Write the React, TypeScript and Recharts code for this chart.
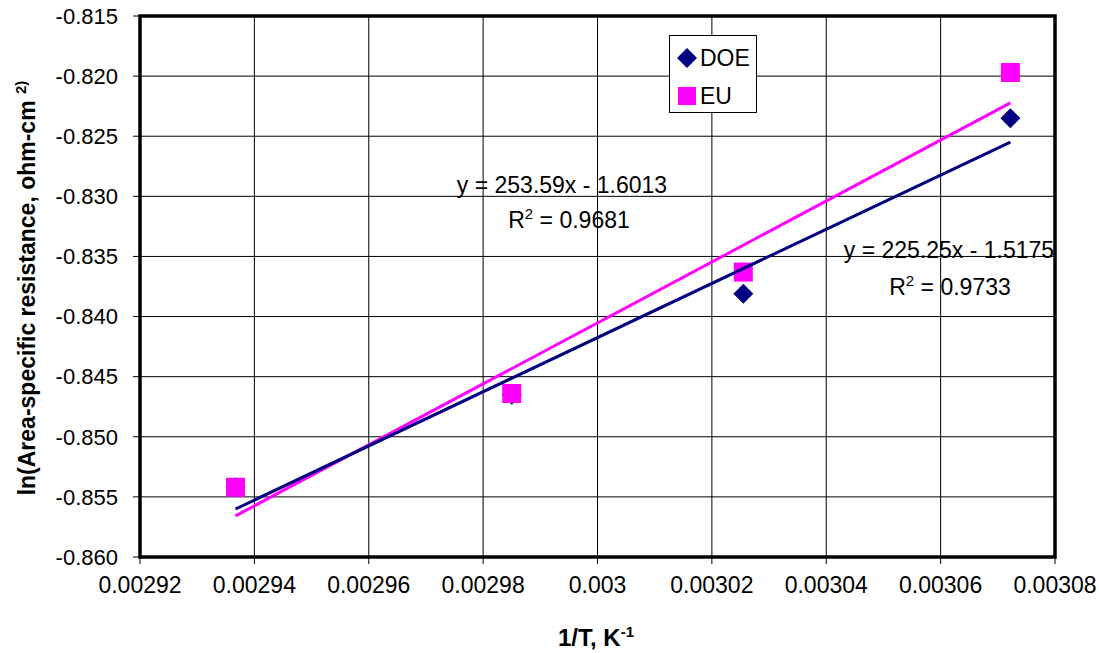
import React from 'react';
import {
  ScatterChart,
  Scatter,
  XAxis,
  YAxis,
  CartesianGrid,
  Legend,
} from 'recharts';

// 1/T (K^-1) and ln(area-specific resistance, ohm-cm2)
const invT = [0.0029367, 0.002985, 0.0030255, 0.0030722];
const doeLnAsr = [-0.8542, -0.8465, -0.8381, -0.8235];
const euLnAsr = [-0.8542, -0.8464, -0.8363, -0.8197];

// Excel trendline coefficients printed on the chart
const doeFit = { slope: 225.25, intercept: -1.5175, r2: '0.9733' };
const euFit = { slope: 253.59, intercept: -1.6013, r2: '0.9681' };

const xTicks = [0.00292, 0.00294, 0.00296, 0.00298, 0.003, 0.00302, 0.00304, 0.00306, 0.00308];
const xTickLabels = ['0.00292', '0.00294', '0.00296', '0.00298', '0.003', '0.00302', '0.00304', '0.00306', '0.00308'];
const yTicks = [-0.86, -0.855, -0.85, -0.845, -0.84, -0.835, -0.83, -0.825, -0.82, -0.815];

const legendItems = [
  { name: 'DOE', color: '#000080', shape: 'diamond' },
  { name: 'EU', color: '#FF00FF', shape: 'square' },
];

const FONT = '"Liberation Sans", Arial, sans-serif';
const X_DOMAIN = [0.00292, 0.00308];
const Y_DOMAIN = [-0.86, -0.815];

const W = 1099;
const H = 653;
const margin = { top: 16, right: 44, bottom: 36, left: 60 };
const yAxisW = 80;
const xAxisH = 60;
const plot = {
  x: margin.left + yAxisW,
  y: margin.top,
  w: W - margin.left - yAxisW - margin.right,
  h: H - margin.top - margin.bottom - xAxisH,
};

const doeData = invT.map((x, i) => ({ x, y: doeLnAsr[i] }));
const euData = invT.map((x, i) => ({ x, y: euLnAsr[i] }));

const xMin = Math.min(...invT);
const xMax = Math.max(...invT);
const fitLine = (f) => [
  { x: xMin, y: f.slope * xMin + f.intercept },
  { x: xMax, y: f.slope * xMax + f.intercept },
];

const Diamond = (props) => {
  const { cx, cy } = props;
  const r = 10;
  return (
    <polygon
      points={`${cx},${cy - r} ${cx + r},${cy} ${cx},${cy + r} ${cx - r},${cy}`}
      fill="#000080"
    />
  );
};

const Square = (props) => {
  const { cx, cy } = props;
  const h = 9.5;
  return <rect x={cx - h} y={cy - h} width={h * 2} height={h * 2} fill="#FF00FF" />;
};

const NoDot = () => <g />;

const LegendBox = () => (
  <div
    style={{
      width: 88,
      height: 78,
      boxSizing: 'border-box',
      border: '1px solid #000',
      background: '#fff',
      fontFamily: FONT,
      fontSize: 23,
      color: '#000',
      position: 'relative',
    }}
  >
    {legendItems.map((it, i) => (
      <div
        key={it.name}
        style={{ position: 'absolute', left: 0, top: i === 0 ? 8 : 46, height: 28, display: 'flex', alignItems: 'center' }}
      >
        <svg width={30} height={28} style={{ display: 'block' }}>
          {it.shape === 'diamond' ? (
            <polygon points="17,4 27,14 17,24 7,14" fill={it.color} />
          ) : (
            <rect x={8} y={5} width={18} height={18} fill={it.color} />
          )}
        </svg>
        <span style={{ lineHeight: '28px' }}>{it.name}</span>
      </div>
    ))}
  </div>
);

export default function App() {
  return (
    <div style={{ position: 'absolute', left: 0, top: 0, width: W, height: H, background: '#fff' }}>
      <ScatterChart width={W} height={H} margin={margin}>
        <CartesianGrid stroke="#000" strokeWidth={1} />
        <XAxis
          type="number"
          dataKey="x"
          domain={X_DOMAIN}
          ticks={xTicks}
          interval={0}
          allowDataOverflow
          height={xAxisH}
          axisLine={false}
          tickLine={{ stroke: '#000', strokeWidth: 1 }}
          tickSize={7}
          tickMargin={13}
          tickFormatter={(v, i) => xTickLabels[i]}
          tick={{ fill: '#000', fontSize: 23, fontFamily: FONT }}
        />
        <YAxis
          type="number"
          dataKey="y"
          domain={Y_DOMAIN}
          ticks={yTicks}
          interval={0}
          allowDataOverflow
          width={yAxisW}
          axisLine={false}
          tickLine={{ stroke: '#000', strokeWidth: 1 }}
          tickSize={7}
          tickMargin={15}
          tickFormatter={(v) => v.toFixed(3)}
          tick={{ fill: '#000', fontSize: 22, fontFamily: FONT }}
        />
        <Scatter name="DOE" data={doeData} shape={Diamond} isAnimationActive={false} />
        <Scatter name="EU" data={euData} shape={Square} isAnimationActive={false} />
        <Scatter
          data={fitLine(euFit)}
          shape={NoDot}
          line={{ stroke: '#FF00FF', strokeWidth: 3 }}
          legendType="none"
          isAnimationActive={false}
        />
        <Scatter
          data={fitLine(doeFit)}
          shape={NoDot}
          line={{ stroke: '#000080', strokeWidth: 3 }}
          legendType="none"
          isAnimationActive={false}
        />
        <Legend
          layout="vertical"
          align="center"
          verticalAlign="middle"
          content={LegendBox}
          wrapperStyle={{ position: 'absolute', left: 669, top: 35, width: 88, height: 78 }}
        />
      </ScatterChart>
      <svg
        width={W}
        height={H}
        style={{ position: 'absolute', left: 0, top: 0, pointerEvents: 'none' }}
        fontFamily={FONT}
      >
        {/* plot-area frame */}
        <rect x={plot.x} y={plot.y} width={plot.w} height={plot.h} fill="none" stroke="#000" strokeWidth={3.5} />
        <text x={562} y={193} textAnchor="middle" fontSize={23} fill="#000">
          {`y = ${euFit.slope}x - ${Math.abs(euFit.intercept)}`}
        </text>
        <text x={569} y={228} textAnchor="middle" fontSize={23} fill="#000">
          R<tspan dy={-9} fontSize={15}>2</tspan>
          <tspan dy={9}>{` = ${euFit.r2}`}</tspan>
        </text>
        <text x={949} y={258} textAnchor="middle" fontSize={23} fill="#000">
          {`y = ${doeFit.slope}x - ${Math.abs(doeFit.intercept)}`}
        </text>
        <text x={950} y={295} textAnchor="middle" fontSize={23} fill="#000">
          R<tspan dy={-9} fontSize={15}>2</tspan>
          <tspan dy={9}>{` = ${doeFit.r2}`}</tspan>
        </text>
        <text x={596} y={646} textAnchor="middle" fontSize={24} fontWeight="bold" fill="#000">
          1/T, K<tspan dy={-9} fontSize={15}>-1</tspan>
        </text>
        <text
          x={35}
          y={288}
          textAnchor="middle"
          fontSize={23}
          fontWeight="bold"
          fill="#000"
          transform="rotate(-90, 35, 288)"
        >
          ln(Area-specific resistance, ohm-cm <tspan dy={-9} fontSize={15}>2)</tspan>
        </text>
      </svg>
    </div>
  );
}
